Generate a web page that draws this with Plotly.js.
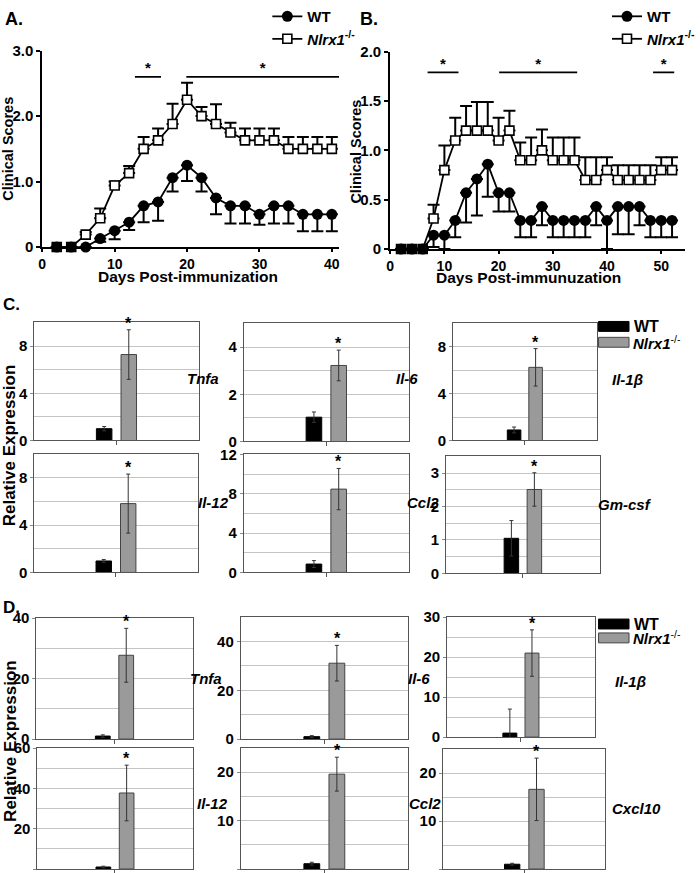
<!DOCTYPE html>
<html><head><meta charset="utf-8">
<script src="https://cdn.plot.ly/plotly-3.0.1.min.js"></script>
<style>html,body{margin:0;padding:0;background:#fff}#chart{width:700px;height:873px}</style>
</head><body><div id="chart"></div>
<script>
// ---------- Panel A data ----------
const daysA = [2,4,6,8,10,12,14,16,18,20,22,24,26,28,30,32,34,36,38,40];
const koA    = [0,0,0.19,0.44,0.94,1.13,1.5,1.63,1.88,2.25,2.0,1.88,1.75,1.63,1.63,1.63,1.5,1.5,1.5,1.5];
const koAerr = [0,0,0.04,0.15,0.06,0.11,0.18,0.18,0.31,0.26,0.14,0.3,0.15,0.18,0.18,0.18,0.18,0.18,0.18,0.18];
const wtA    = [0,0,0,0.13,0.25,0.38,0.63,0.69,1.06,1.25,1.06,0.75,0.63,0.63,0.5,0.63,0.63,0.5,0.5,0.5];
const wtAerr = [0,0,0,0.05,0.13,0.12,0.25,0.29,0.21,0.24,0.21,0.25,0.27,0.27,0.16,0.27,0.27,0.26,0.26,0.26];
const sigAstart = [12.8, 19.9];
const sigAend   = [16.4, 41];
const sigAy = 2.6;

// ---------- Panel B data ----------
const daysB = [2,4,6,8,10,12,14,16,18,20,22,24,26,28,30,32,34,36,38,40,42,44,46,48,50,52];
const koB    = [0,0,0,0.31,0.8,1.1,1.2,1.2,1.2,1.1,1.2,0.9,0.9,1.0,0.9,0.9,0.9,0.7,0.7,0.8,0.7,0.7,0.7,0.7,0.8,0.8];
const koBerr = [0,0,0,0.14,0.25,0.23,0.25,0.29,0.29,0.23,0.2,0.18,0.23,0.21,0.23,0.23,0.23,0.23,0.23,0.13,0.15,0.15,0.15,0.15,0.13,0.13];
const wtB    = [0,0,0,0.14,0.14,0.29,0.57,0.71,0.86,0.57,0.57,0.29,0.29,0.43,0.29,0.29,0.29,0.29,0.43,0.29,0.43,0.43,0.43,0.29,0.29,0.29];
const wtBerr = [0,0,0,0.12,0.14,0.17,0.3,0.37,0.33,0.19,0.19,0.17,0.17,0.19,0.17,0.17,0.17,0.17,0.19,0.29,0.28,0.28,0.19,0.17,0.17,0.17];
const sigBstart = [6.9, 20.1, 48.5];
const sigBend   = [12.6, 34.5, 52.4];
const sigBy = 1.79;

// ---------- Panel C data ----------
const genesC  = ['Tnfa','Il-6','Il-1β','Il-12','Ccl2','Gm-csf'];
const wtC     = [1.0, 1.03, 0.9, 0.97, 0.85, 1.05];
const wtCerr  = [0.18, 0.22, 0.25, 0.12, 0.35, 0.53];
const koC     = [7.28, 3.22, 6.25, 5.83, 8.47, 2.51];
const koCerr  = [2.1, 0.65, 1.6, 2.5, 2.1, 0.5];
const rangeC  = [10, 5, 10, 10, 12, 3.5];
const dtickC  = [4, 2, 4, 4, 4, 1];
const minorC  = [2, 1, 2, 2, 2, 0.5];

// ---------- Panel D data ----------
const genesD  = ['Tnfa','Il-6','Il-1β','Il-12','Ccl2','Cxcl10'];
const wtD     = [1.0, 1.0, 1.0, 1.0, 1.1, 1.0];
const wtDerr  = [0.4, 0.4, 6.0, 0.4, 0.3, 0.2];
const koD     = [27.7, 31.1, 21.0, 37.7, 19.6, 16.6];
const koDerr  = [8.9, 7.3, 5.8, 13.8, 3.5, 6.5];
const rangeD  = [40, 50, 30, 60, 25, 25];
const dtickD  = [20, 20, 10, 20, 10, 10];
const minorD  = [10, 10, 5, 10, 5, 5];

// ---------- helpers ----------
const W = 700, H = 873;
const xd = (a,b) => [a/W, b/W];
const yd = (t,b) => [1-b/H, 1-t/H];
const F  = 'Liberation Sans, Arial, sans-serif';
const KO_NAME = '<b><i>Nlrx1</i></b><sup>-/-</sup>';
const BARGAP = 0.7, GROUPGAP = 0.37;

const traces = [];
const layout = {
  width: W, height: H, margin:{l:0,r:0,t:0,b:0},
  paper_bgcolor:'#fff', plot_bgcolor:'rgba(0,0,0,0)',
  showlegend: true, barmode:'group', bargap:BARGAP, bargroupgap:GROUPGAP,
  annotations: [], shapes: []
};

function sigTrace(starts, ends, yv, ax, ay){
  const xs=[], ys=[], sx=[], sy=[];
  starts.forEach((s,i)=>{ xs.push(s, ends[i], null); ys.push(yv,yv,null); sx.push((s+ends[i])/2); sy.push(yv); });
  traces.push({x:xs,y:ys,xaxis:ax,yaxis:ay,type:'scatter',mode:'lines',line:{color:'#000',width:1.8},showlegend:false,cliponaxis:false,hoverinfo:'skip'});
  traces.push({x:sx,y:sy,xaxis:ax,yaxis:ay,type:'scatter',mode:'text',text:sx.map(()=>'*'),textposition:'top center',textfont:{family:F,size:15,color:'#000',weight:'bold'},showlegend:false,cliponaxis:false,hoverinfo:'skip'});
}

function linePanel(days, ko, koErr, wt, wtErr, ax, ay, leg){
  traces.push({x:days,y:ko,xaxis:ax,yaxis:ay,type:'scatter',mode:'lines+markers',name:KO_NAME,legend:leg,cliponaxis:false,
    line:{color:'#000',width:1.8},
    marker:{symbol:'square',size:9,color:'#fff',line:{color:'#000',width:1.6}},
    error_y:{type:'data',symmetric:false,array:koErr,arrayminus:koErr.map(()=>0),color:'#000',thickness:2,width:6}});
  traces.push({x:days,y:wt,xaxis:ax,yaxis:ay,type:'scatter',mode:'lines+markers',name:'<b>WT</b>',legend:leg,cliponaxis:false,
    line:{color:'#000',width:1.8},
    marker:{symbol:'circle',size:11,color:'#000'},
    error_y:{type:'data',symmetric:false,array:wt.map(()=>0),arrayminus:wtErr,color:'#000',thickness:2,width:6}});
}

const lineAxisBase = {showline:true,linecolor:'#000',linewidth:2,ticks:'outside',ticklen:4,tickwidth:2,tickcolor:'#000',
  showgrid:false,zeroline:false,tickfont:{family:F,size:15,color:'#000',weight:'bold'}};

// Panel A
linePanel(daysA, koA, koAerr, wtA, wtAerr, 'x', 'y', 'legend');
sigTrace(sigAstart, sigAend, sigAy, 'x', 'y');
layout.xaxis  = Object.assign({}, lineAxisBase, {domain:xd(43,345), range:[0,41], tickvals:[0,10,20,30,40], anchor:'y', ticklen:3,
  tickfont:{family:F,size:14,color:'#000',weight:'bold'}});
layout.yaxis  = Object.assign({}, lineAxisBase, {domain:yd(44,242), range:[0,3], tickvals:[0,1,2,3], ticktext:['0','1.0','2.0','3.0'], anchor:'x'});
// Panel B
linePanel(daysB, koB, koBerr, wtB, wtBerr, 'x2', 'y2', 'legend2');
sigTrace(sigBstart, sigBend, sigBy, 'x2', 'y2');
layout.xaxis2 = Object.assign({}, lineAxisBase, {domain:xd(397,697), range:[0,54.4], tickvals:[0,10,20,30,40,50], anchor:'y2', ticklen:3,
  tickfont:{family:F,size:14,color:'#000',weight:'bold'}});
layout.yaxis2 = Object.assign({}, lineAxisBase, {domain:yd(45,244), range:[0,2], tickvals:[0,0.5,1,1.5,2], ticktext:['0','0.5','1.0','1.5','2.0'], anchor:'x2'});

const legFont = {family:F,size:15,color:'#000',weight:'bold'};
layout.legend  = {x:272/W, y:1+7/H, xanchor:'left', yanchor:'top', traceorder:'reversed', font:legFont, bgcolor:'rgba(0,0,0,0)', tracegroupgap:0, itemwidth:30};
layout.legend2 = {x:618/W, y:1+7/H, xanchor:'left', yanchor:'top', traceorder:'reversed', font:legFont, bgcolor:'rgba(0,0,0,0)', tracegroupgap:0, itemwidth:30};

// Bar panels: [left, right, top, bottom] in px
const domC = [[35,202,318,437],[248,416,319,438],[461,607,319,437],[35,201,451,570],[248,416,451,570],[454,610,453,571]];
const domD = [[37,196,616,738],[245,415,615,738],[455,605,615,736],[38,196,747,869],[245,415,747,869],[451,616,748,869]];
const labC = [[207,374],[414,374],[638,376],[217,500],[430,500],[636,502]];
const labD = [[210,677],[426,677],[641,680],[216,803],[432,803],[648,808]];

function barPanels(genes, wt, wtErr, ko, koErr, ranges, dticks, minors, doms, labs, startIdx){
  genes.forEach((g,i)=>{
    const n = startIdx + i;
    const ax = 'x'+n, ay = 'y'+n;
    traces.push({type:'bar',x:[g],y:[wt[i]],xaxis:ax,yaxis:ay,name:'WT',showlegend:false,
      marker:{color:'#000',line:{color:'#000',width:1}},
      error_y:{type:'data',array:[wtErr[i]],color:'#333',thickness:1,width:2}});
    traces.push({type:'bar',x:[g],y:[ko[i]],xaxis:ax,yaxis:ay,name:'Nlrx1-/-',showlegend:false,
      marker:{color:'#9a9a9a',line:{color:'#444',width:1}},
      error_y:{type:'data',array:[koErr[i]],color:'#333',thickness:1,width:2}});
    const d = doms[i];
    const lc = '#555';
    layout['xaxis'+n] = {domain:xd(d[0],d[1]), anchor:ay, type:'category', showline:true, linecolor:lc, linewidth:1, mirror:true,
      ticks:'outside', ticklen:4, tickcolor:lc, showticklabels:false, showgrid:false, zeroline:false, fixedrange:true};
    layout['yaxis'+n] = {domain:yd(d[2],d[3]), anchor:ax, range:[0,ranges[i]], dtick:dticks[i], tick0:0,
      showline:true, linecolor:lc, linewidth:1, mirror:true, ticks:'outside', ticklen:3, tickcolor:'#888', zeroline:false,
      showgrid:true, gridcolor:'#c4c4c4', gridwidth:1,
      minor:{dtick:minors[i], tick0:0, showgrid:true, gridcolor:'#c4c4c4', gridwidth:1},
      tickfont:{family:F,size:15,color:'#000',weight:'bold'}};
    const shift = (d[1]-d[0])*(1-BARGAP)/4;
    layout.annotations.push({xref:ax, yref:ay, x:g, y:ko[i]+koErr[i], xshift:shift, yshift:-4, yanchor:'bottom',
      text:'<b>*</b>', showarrow:false, font:{family:F,size:16,color:'#000'}});
    const l = labs[i];
    layout.annotations.push({xref:'paper', yref:'paper', x:l[0]/W, y:1-l[1]/H, xanchor:'center', yanchor:'middle',
      text:'<b><i>'+g+'</i></b>', showarrow:false, font:{family:F,size:15,color:'#000'}});
  });
}
barPanels(genesC, wtC, wtCerr, koC, koCerr, rangeC, dtickC, minorC, domC, labC, 3);
barPanels(genesD, wtD, wtDerr, koD, koDerr, rangeD, dtickD, minorD, domD, labD, 9);

// manual legends for C and D
function boxLegend(yWT, yKO){
  layout.shapes.push({type:'rect',xref:'paper',yref:'paper',x0:609/W,x1:640/W,y0:1-(yWT+5)/H,y1:1-(yWT-5)/H,fillcolor:'#000',line:{color:'#000',width:1}});
  layout.shapes.push({type:'rect',xref:'paper',yref:'paper',x0:609/W,x1:640/W,y0:1-(yKO+5)/H,y1:1-(yKO-5)/H,fillcolor:'#9a9a9a',line:{color:'#444',width:1}});
  layout.annotations.push({xref:'paper',yref:'paper',x:643/W,y:1-yWT/H,xanchor:'left',yanchor:'middle',text:'<b>WT</b>',showarrow:false,font:{family:F,size:16,color:'#000'}});
  layout.annotations.push({xref:'paper',yref:'paper',x:642/W,y:1-yKO/H,xanchor:'left',yanchor:'middle',text:KO_NAME,showarrow:false,font:{family:F,size:15,color:'#000'}});
}
boxLegend(322, 338);
boxLegend(622, 636);

// panel letters and axis titles
function txt(x,y,t,size,opt){
  layout.annotations.push(Object.assign({xref:'paper',yref:'paper',x:x/W,y:1-y/H,xanchor:'center',yanchor:'middle',text:t,showarrow:false,font:{family:F,size:size,color:'#000'}},opt||{}));
}
txt(3,12,'<b>A.</b>',18,{xanchor:'left'});
txt(364,12,'<b>B.</b>',18,{xanchor:'left'});
txt(1,300,'<b>C.</b>',17,{xanchor:'left'});
txt(1,605,'<b>D.</b>',17,{xanchor:'left'});
txt(8,143,'<b>Clinical Scores</b>',14.5,{textangle:-90});
txt(362,146,'<b>Clinical Scores</b>',14.5,{textangle:-90});
txt(191,272,'<b>Days Post-immunization</b>',15.5);
txt(538,273,'<b>Days Post-immunuzation</b>',15.5);
txt(10,442,'<b>Relative Expression</b>',17,{textangle:-90});
txt(10,740,'<b>Relative Expression</b>',17,{textangle:-90});

Plotly.newPlot('chart', traces, layout, {staticPlot:true});
</script></body></html>
